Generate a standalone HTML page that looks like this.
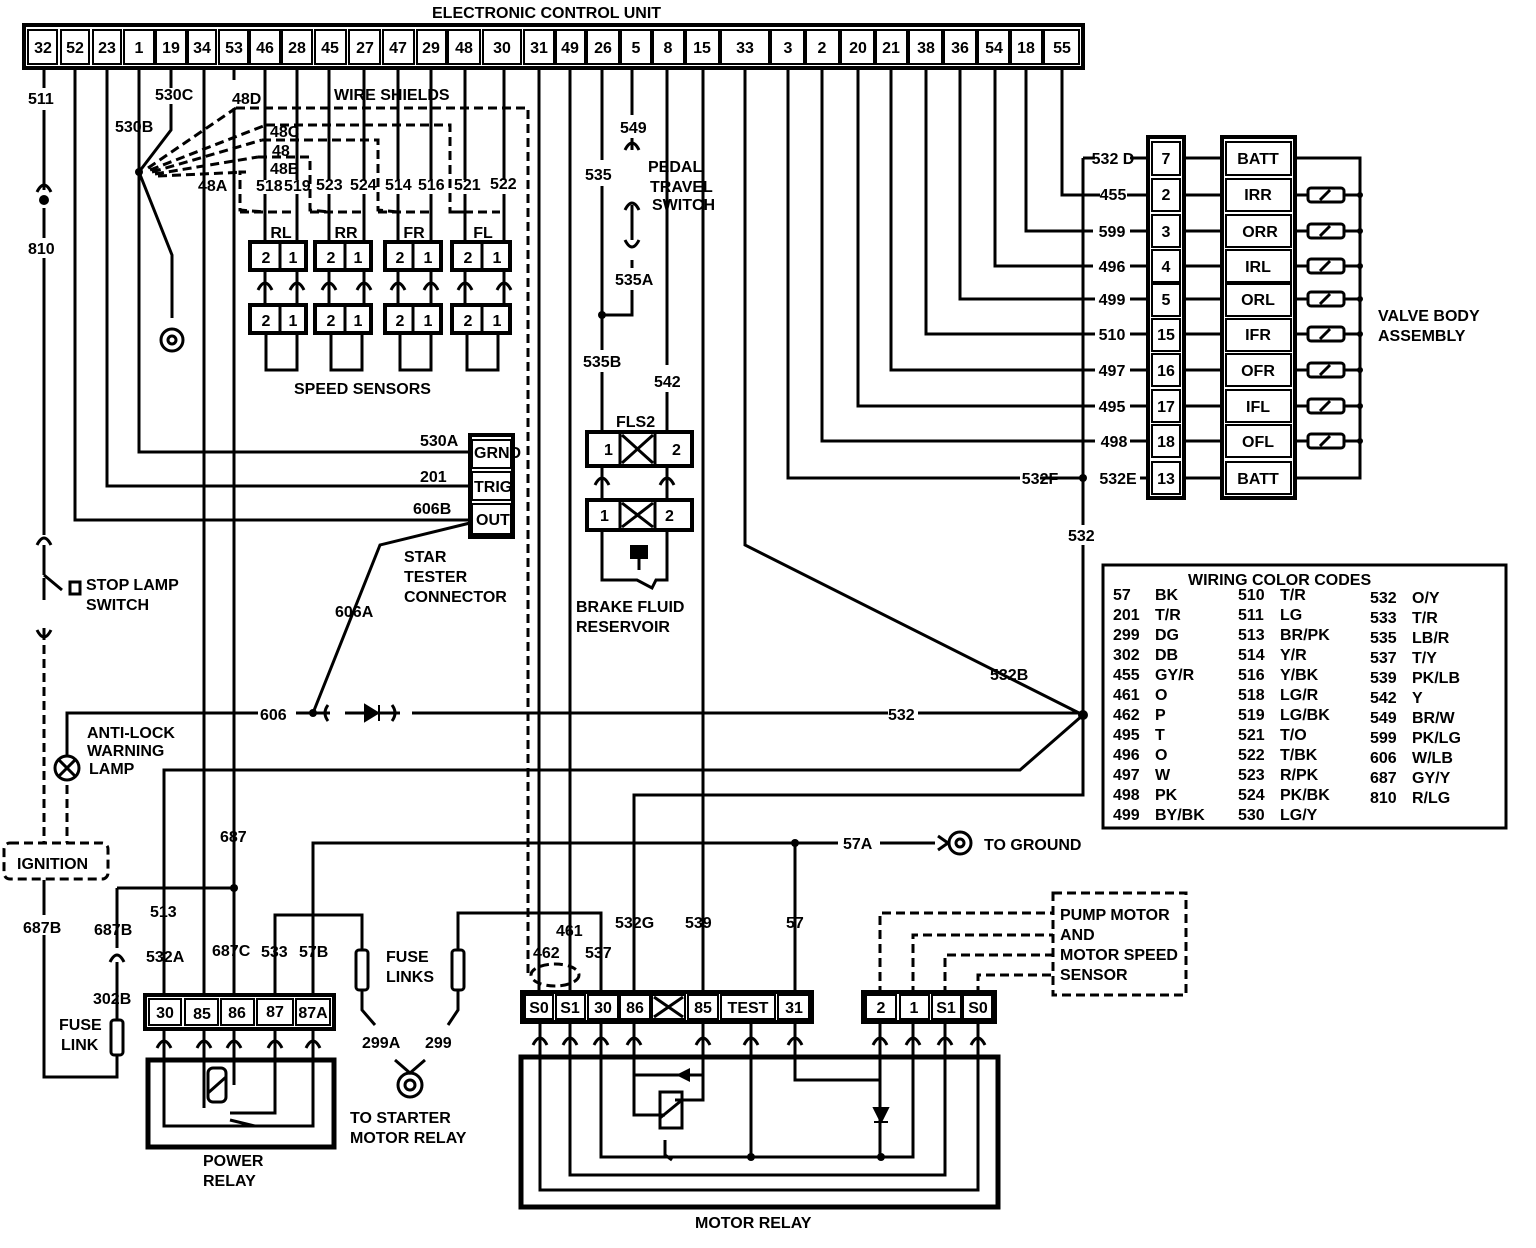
<!DOCTYPE html>
<html><head><meta charset="utf-8"><style>
html,body{margin:0;padding:0;background:#fff}
svg{display:block}
text{font-family:"Liberation Sans",sans-serif;font-weight:bold;font-size:16px;fill:#000}
.w{stroke:#000;stroke-width:3;fill:none}
.d{stroke:#000;stroke-width:3;fill:none;stroke-dasharray:9 5}
.b{stroke:#000;stroke-width:4;fill:#fff}
.c{stroke:#000;stroke-width:2;fill:#fff}
</style></head><body>
<svg width="1536" height="1248" viewBox="0 0 1536 1248" xmlns="http://www.w3.org/2000/svg">
<text x="432" y="18" font-size="17">ELECTRONIC CONTROL UNIT</text>
<rect x="24" y="25" width="1059" height="43" class="b"/>
<g class="c">
<rect x="28" y="30" width="29" height="34"/><rect x="61" y="30" width="28" height="34"/><rect x="93" y="30" width="28" height="34"/><rect x="124" y="30" width="30" height="34"/><rect x="156" y="30" width="30" height="34"/><rect x="188" y="30" width="28" height="34"/><rect x="219" y="30" width="29" height="34"/><rect x="250" y="30" width="30" height="34"/><rect x="282" y="30" width="30" height="34"/><rect x="315" y="30" width="31" height="34"/><rect x="349" y="30" width="31" height="34"/><rect x="383" y="30" width="31" height="34"/><rect x="417" y="30" width="29" height="34"/><rect x="448" y="30" width="32" height="34"/><rect x="483" y="30" width="38" height="34"/><rect x="524" y="30" width="30" height="34"/><rect x="556" y="30" width="29" height="34"/><rect x="587" y="30" width="32" height="34"/><rect x="621" y="30" width="30" height="34"/><rect x="653" y="30" width="31" height="34"/><rect x="686" y="30" width="33" height="34"/><rect x="721" y="30" width="48" height="34"/><rect x="771" y="30" width="33" height="34"/><rect x="806" y="30" width="33" height="34"/><rect x="841" y="30" width="33" height="34"/><rect x="876" y="30" width="31" height="34"/><rect x="909" y="30" width="33" height="34"/><rect x="944" y="30" width="32" height="34"/><rect x="978" y="30" width="31" height="34"/><rect x="1011" y="30" width="31" height="34"/><rect x="1044" y="30" width="35" height="34"/>
</g>
<g text-anchor="middle" font-size="16">
<text x="43" y="53">32</text><text x="75" y="53">52</text><text x="107" y="53">23</text><text x="139" y="53">1</text><text x="171" y="53">19</text><text x="202" y="53">34</text><text x="234" y="53">53</text><text x="265" y="53">46</text><text x="297" y="53">28</text><text x="330" y="53">45</text><text x="365" y="53">27</text><text x="398" y="53">47</text><text x="431" y="53">29</text><text x="464" y="53">48</text><text x="502" y="53">30</text><text x="539" y="53">31</text><text x="570" y="53">49</text><text x="603" y="53">26</text><text x="636" y="53">5</text><text x="668" y="53">8</text><text x="702" y="53">15</text><text x="745" y="53">33</text><text x="788" y="53">3</text><text x="822" y="53">2</text><text x="858" y="53">20</text><text x="891" y="53">21</text><text x="926" y="53">38</text><text x="960" y="53">36</text><text x="994" y="53">54</text><text x="1026" y="53">18</text><text x="1062" y="53">55</text>
</g>

<!-- left wires -->
<g class="w">
<path d="M44 68V88M44 110V190M44 208V238M44 258V535M44 545V575"/>
<path d="M44 575L62 590M44 578V600"/>
<path d="M44 628V640"/>
<path d="M75 68V520H470"/>
<path d="M107 68V486H470"/>
<path d="M139 68V452H470"/>
<path d="M171 68V88M171 104V130L139 172L172 255V318"/>
<path d="M204 68V995"/>
<path d="M234 68V80M234 108V995"/>
<path d="M265 68V180M265 194V242M297 68V180M297 194V242M329 68V180M329 194V242M364 68V180M364 194V242M398 68V180M398 194V242M431 68V180M431 194V242M465 68V180M465 194V242M504 68V180M504 194V242"/>
<path d="M539 68V993M570 68V993M602 68V160M602 186V350M602 372V433"/>
<path d="M632 68V115M632 138V150M632 205V240M632 260V268M632 290V315H602"/>
<path d="M667 68V365M667 392V433M703 68V993"/>
<path d="M745 68V545L1083 715"/>
<path d="M788 68V478H1020M1040 478H1083"/>
<path d="M822 68V441H1095M858 68V406H1095M891 68V370H1095M926 68V334H1095M960 68V299H1095M995 68V266H1093M1026 68V231H1093M1062 68V195H1100M1127 195H1150"/>
<path d="M1083 158V525M1083 545V795H634V993M1083 158H1095M1130 158H1150"/>
<path d="M1130 231H1150M1130 266H1150M1130 299H1150M1130 334H1150M1130 370H1150M1130 406H1150M1130 441H1150M1140 478H1150"/>
<path d="M1182 158H1222M1182 195H1222M1182 231H1222M1182 266H1222M1182 299H1222M1182 334H1222M1182 370H1222M1182 406H1222M1182 441H1222M1182 478H1222"/>
<path d="M1295 158H1360V478H1295M1295 195H1307M1345 195H1360M1295 231H1307M1345 231H1360M1295 266H1307M1345 266H1360M1295 299H1307M1345 299H1360M1295 334H1307M1345 334H1360M1295 370H1307M1345 370H1360M1295 406H1307M1345 406H1360M1295 441H1307M1345 441H1360"/>
<!-- 606 line -->
<path d="M67 755V713H258M296 713H313M313 713L380 545L470 523M313 713H330M345 713H400M412 713H888M918 713H1083"/>
<path d="M1083 715L1020 770H164V995"/>
<path d="M313 995V843H795V993M795 843H838M880 843H935"/>
<path d="M117 888H234M117 888V948M117 962V1020M117 1055V1077H44V935M44 915V880"/>
<path d="M275 995V915H362V950M362 990V1010L375 1025"/>
<path d="M601 993V913H458V950M458 990V1010L448 1025"/>
<path d="M570 913H539"/>
</g>
<g class="d">
<path d="M44 645V843M67 785V843"/>
<path d="M236 108H528V975M266 125H450V212L465 212M262 140H378V210L398 212M258 157H310V210L329 212M246 172H240V210L265 212"/>
<path d="M450 212H500M378 212H430M310 212H362M240 212H297"/>
<path d="M148 168L236 108M150 170L266 125M152 172L262 140M155 174L258 157M158 176L246 172"/>
<path d="M880 995V913H1053M913 995V935H1053M945 995V955H1053M978 995V975H1053"/>
<rect x="1053" y="893" width="133" height="102"/>
<rect x="4" y="843" width="104" height="36" rx="6"/>
<ellipse cx="555" cy="975" rx="24" ry="11"/>
</g>
<!-- dots -->
<g fill="#000">
<circle cx="139" cy="172" r="4"/><circle cx="44" cy="200" r="5"/><circle cx="602" cy="315" r="4"/><circle cx="1083" cy="478" r="4"/><circle cx="1083" cy="715" r="5"/><circle cx="313" cy="713" r="4"/><circle cx="234" cy="888" r="4"/><circle cx="795" cy="843" r="4"/><circle cx="751" cy="1157" r="4"/><circle cx="881" cy="1157" r="4"/>
<circle cx="1360" cy="195" r="3"/><circle cx="1360" cy="231" r="3"/><circle cx="1360" cy="266" r="3"/><circle cx="1360" cy="299" r="3"/><circle cx="1360" cy="334" r="3"/><circle cx="1360" cy="370" r="3"/><circle cx="1360" cy="406" r="3"/><circle cx="1360" cy="441" r="3"/>
</g>
<!-- connector arrows -->
<g class="w">
<path d="M37 192Q44 178 51 192M37 545Q44 531 51 545M37 630Q44 644 51 630M625 150Q632 136 639 150M625 240Q632 254 639 240M625 210Q632 196 639 210"/>
<path d="M258 290Q265 276 272 290M290 290Q297 276 304 290M322 290Q329 276 336 290M357 290Q364 276 371 290M391 290Q398 276 405 290M424 290Q431 276 438 290M458 290Q465 276 472 290M497 290Q504 276 511 290"/>
<path d="M265 270V305M297 270V305M329 270V305M364 270V305M398 270V305M431 270V305M465 270V305M504 270V305"/>
<path d="M595 485Q602 471 609 485M660 485Q667 471 674 485M602 465V500M667 465V500"/>
<path d="M110 962Q117 948 124 962"/>
<path d="M157 1048Q164 1034 171 1048M197 1048Q204 1034 211 1048M227 1048Q234 1034 241 1048M268 1048Q275 1034 282 1048M306 1048Q313 1034 320 1048"/>
<path d="M164 1028V1126H313V1028M204 1028V1108M234 1028V1085M275 1028V1113H230M230 1120L255 1126"/>
<path d="M533 1045Q540 1031 547 1045M563 1045Q570 1031 577 1045M594 1045Q601 1031 608 1045M627 1045Q634 1031 641 1045M696 1045Q703 1031 710 1045M744 1045Q751 1031 758 1045M788 1045Q795 1031 802 1045M873 1045Q880 1031 887 1045M906 1045Q913 1031 920 1045M938 1045Q945 1031 952 1045M971 1045Q978 1031 985 1045"/>
<path d="M540 1022V1190H978V1022M570 1022V1175H945V1022M601 1022V1157H913V1022M634 1022V1115H665M703 1022V1100H675M634 1075H703M751 1022V1157M795 1022V1080H880M880 1022V1157"/>
<path d="M665 1140V1155L672 1160"/>
</g>
<path d="M690 1068L676 1075L690 1082Z" fill="#000"/>
<path d="M874 1108L881 1122L888 1108Z M874 1122H888" fill="#000" stroke="#000" stroke-width="2"/>
<rect x="660" y="1092" width="22" height="36" class="w"/><path d="M660 1118L682 1100" class="w"/>
<rect x="208" y="1068" width="18" height="34" rx="5" class="w"/><path d="M208 1093L226 1077" class="w"/>
<!-- boxes -->
<rect x="148" y="1060" width="186" height="87" fill="none" stroke="#000" stroke-width="5"/>
<rect x="521" y="1057" width="477" height="150" fill="none" stroke="#000" stroke-width="5"/>
<rect x="145" y="995" width="189" height="34" class="b"/>
<g class="c"><rect x="149" y="999" width="32" height="26"/><rect x="185" y="999" width="33" height="26"/><rect x="221" y="999" width="33" height="26"/><rect x="257" y="999" width="36" height="26"/><rect x="296" y="999" width="34" height="26"/></g>
<g text-anchor="middle" font-size="15"><text x="165" y="1018">30</text><text x="202" y="1019">85</text><text x="237" y="1018">86</text><text x="275" y="1017">87</text><text x="313" y="1018">87A</text></g>
<rect x="522" y="992" width="290" height="30" class="b"/>
<g class="c"><rect x="525" y="995" width="28" height="24"/><rect x="556" y="995" width="29" height="24"/><rect x="588" y="995" width="30" height="24"/><rect x="620" y="995" width="30" height="24"/><rect x="652" y="995" width="33" height="24"/><rect x="688" y="995" width="30" height="24"/><rect x="721" y="995" width="54" height="24"/><rect x="778" y="995" width="31" height="24"/></g>
<path d="M654 997L683 1017M654 1017L683 997" class="w"/>
<g text-anchor="middle" font-size="15"><text x="539" y="1013">S0</text><text x="570" y="1013">S1</text><text x="603" y="1013">30</text><text x="635" y="1013">86</text><text x="703" y="1013">85</text><text x="748" y="1013">TEST</text><text x="794" y="1013">31</text></g>
<rect x="863" y="992" width="132" height="30" class="b"/>
<g class="c"><rect x="866" y="995" width="30" height="24"/><rect x="900" y="995" width="29" height="24"/><rect x="932" y="995" width="29" height="24"/><rect x="963" y="995" width="29" height="24"/></g>
<g text-anchor="middle" font-size="15"><text x="881" y="1013">2</text><text x="914" y="1013">1</text><text x="946" y="1013">S1</text><text x="978" y="1013">S0</text></g>
<!-- speed sensors -->
<g>
<rect x="250" y="242" width="56" height="28" class="b"/><rect x="315" y="242" width="56" height="28" class="b"/><rect x="385" y="242" width="56" height="28" class="b"/><rect x="452" y="242" width="58" height="28" class="b"/>
<rect x="250" y="305" width="56" height="28" class="b"/><rect x="315" y="305" width="56" height="28" class="b"/><rect x="385" y="305" width="56" height="28" class="b"/><rect x="452" y="305" width="58" height="28" class="b"/>
<path class="w" d="M280 242V270M345 242V270M413 242V270M482 242V270M280 305V333M345 305V333M413 305V333M482 305V333"/>
<path class="w" d="M266 333V370H297V333M331 333V370H362V333M400 333V370H431V333M467 333V370H498V333"/>
</g>
<g text-anchor="middle" font-size="15">
<text x="266" y="263">2</text><text x="293" y="263">1</text><text x="331" y="263">2</text><text x="358" y="263">1</text><text x="400" y="263">2</text><text x="428" y="263">1</text><text x="468" y="263">2</text><text x="497" y="263">1</text>
<text x="266" y="326">2</text><text x="293" y="326">1</text><text x="331" y="326">2</text><text x="358" y="326">1</text><text x="400" y="326">2</text><text x="428" y="326">1</text><text x="468" y="326">2</text><text x="497" y="326">1</text>
<text x="281" y="238" font-size="14">RL</text><text x="346" y="238" font-size="14">RR</text><text x="414" y="238" font-size="14">FR</text><text x="483" y="238" font-size="14">FL</text>
</g>
<!-- ring terminals -->
<g class="w"><circle cx="172" cy="340" r="11"/><circle cx="172" cy="340" r="4"/><circle cx="960" cy="843" r="11"/><circle cx="960" cy="843" r="4"/><circle cx="410" cy="1085" r="12"/><circle cx="410" cy="1085" r="5"/><path d="M395 1060L410 1073L425 1060"/></g>
<!-- fuse links -->
<g class="w"><rect x="356" y="950" width="12" height="40" rx="3"/><rect x="452" y="950" width="12" height="40" rx="3"/><rect x="111" y="1020" width="12" height="35" rx="3"/></g>
<!-- valve body -->
<rect x="1148" y="137" width="36" height="361" class="b"/>
<rect x="1222" y="137" width="73" height="361" class="b"/>
<g class="c">
<rect x="1152" y="142" width="28" height="33"/><rect x="1152" y="179" width="28" height="32"/><rect x="1152" y="215" width="28" height="32"/><rect x="1152" y="250" width="28" height="32"/><rect x="1152" y="284" width="28" height="32"/><rect x="1152" y="319" width="28" height="32"/><rect x="1152" y="354" width="28" height="32"/><rect x="1152" y="390" width="28" height="32"/><rect x="1152" y="425" width="28" height="32"/><rect x="1152" y="462" width="28" height="32"/>
<rect x="1226" y="142" width="65" height="33"/><rect x="1226" y="179" width="65" height="32"/><rect x="1226" y="215" width="65" height="32"/><rect x="1226" y="250" width="65" height="32"/><rect x="1226" y="284" width="65" height="32"/><rect x="1226" y="319" width="65" height="32"/><rect x="1226" y="354" width="65" height="32"/><rect x="1226" y="390" width="65" height="32"/><rect x="1226" y="425" width="65" height="32"/><rect x="1226" y="462" width="65" height="32"/>
</g>
<g class="w">
<rect x="1308" y="188" width="36" height="14" rx="3"/><rect x="1308" y="224" width="36" height="14" rx="3"/><rect x="1308" y="259" width="36" height="14" rx="3"/><rect x="1308" y="292" width="36" height="14" rx="3"/><rect x="1308" y="327" width="36" height="14" rx="3"/><rect x="1308" y="363" width="36" height="14" rx="3"/><rect x="1308" y="399" width="36" height="14" rx="3"/><rect x="1308" y="434" width="36" height="14" rx="3"/>
<path d="M1320 200L1330 190M1320 236L1330 226M1320 271L1330 261M1320 304L1330 294M1320 339L1330 329M1320 375L1330 365M1320 411L1330 401M1320 446L1330 436"/>
</g>
<g text-anchor="middle" font-size="15">
<text x="1166" y="164">7</text><text x="1166" y="200">2</text><text x="1166" y="237">3</text><text x="1166" y="272">4</text><text x="1166" y="305">5</text><text x="1166" y="340">15</text><text x="1166" y="376">16</text><text x="1166" y="412">17</text><text x="1166" y="447">18</text><text x="1166" y="484">13</text>
<text x="1258" y="164" font-size="14">BATT</text><text x="1258" y="200" font-size="14">IRR</text><text x="1260" y="237" font-size="14">ORR</text><text x="1258" y="272" font-size="14">IRL</text><text x="1258" y="305" font-size="14">ORL</text><text x="1258" y="340" font-size="14">IFR</text><text x="1258" y="376" font-size="14">OFR</text><text x="1258" y="412" font-size="14">IFL</text><text x="1258" y="447" font-size="14">OFL</text><text x="1258" y="484" font-size="14">BATT</text>
<text x="1113" y="164" font-size="14">532 D</text><text x="1113" y="200" font-size="14">455</text><text x="1112" y="237">599</text><text x="1112" y="272">496</text><text x="1112" y="305">499</text><text x="1112" y="340">510</text><text x="1112" y="376">497</text><text x="1112" y="412">495</text><text x="1114" y="447">498</text><text x="1118" y="484" font-size="14">532E</text><text x="1040" y="484" font-size="14">532F</text>
</g>
<text x="1378" y="321" font-size="17">VALVE BODY</text><text x="1378" y="341" font-size="17">ASSEMBLY</text>
<!-- FLS2 -->
<rect x="587" y="432" width="105" height="34" class="b"/>
<rect x="587" y="500" width="105" height="30" class="b"/>
<path class="w" d="M620 432V466M655 432V466M622 435L653 463M622 463L653 435M620 500V530M655 500V530M622 503L653 527M622 527L653 503"/>
<path class="w" d="M602 530V580H637L652 588L656 580H667V530"/>
<rect x="630" y="545" width="18" height="14" fill="#000"/><path d="M639 559V570" class="w"/>
<text x="604" y="455" font-size="15">1</text><text x="672" y="455" font-size="15">2</text><text x="600" y="521" font-size="15">1</text><text x="665" y="521" font-size="15">2</text>
<text x="616" y="427" font-size="15">FLS2</text>
<text x="576" y="612" font-size="17">BRAKE FLUID</text><text x="576" y="632" font-size="17">RESERVOIR</text>
<!-- star tester -->
<rect x="470" y="435" width="43" height="102" class="b"/>
<g class="c"><rect x="472" y="440" width="39" height="28"/><rect x="472" y="472" width="39" height="28"/><rect x="472" y="504" width="39" height="30"/></g>
<g font-size="14"><text x="474" y="458">GRND</text><text x="474" y="492">TRIG</text><text x="476" y="525">OUT</text></g>
<text x="404" y="562" font-size="17">STAR</text><text x="404" y="582" font-size="17">TESTER</text><text x="404" y="602" font-size="17">CONNECTOR</text>
<!-- misc symbols -->
<rect x="70" y="582" width="10" height="12" class="w"/>
<path d="M328 705Q322 713 328 721M392 705Q398 713 392 721" class="w"/>
<path d="M365 705L378 713L365 721Z M379 705V721" fill="#000" stroke="#000" stroke-width="2"/>
<circle cx="67" cy="768" r="12" class="w"/><path d="M58 759L76 777M76 759L58 777" class="w"/>
<path d="M938 836L948 843L938 850" class="w"/>
<!-- labels -->
<g font-size="16">
<text x="28" y="104">511</text><text x="28" y="254">810</text><text x="155" y="100">530C</text><text x="115" y="132">530B</text><text x="232" y="104">48D</text><text x="334" y="100" font-size="15">WIRE SHIELDS</text>
<text x="270" y="137" font-size="15">48C</text><text x="272" y="156" font-size="15">48</text><text x="270" y="174" font-size="15">48B</text><text x="198" y="191">48A</text>
<text x="256" y="191" font-size="15">518</text><text x="284" y="191" font-size="15">519</text><text x="316" y="190">523</text><text x="350" y="190">524</text><text x="385" y="190">514</text><text x="418" y="190">516</text><text x="454" y="190" font-size="15">521</text><text x="490" y="189">522</text>
<text x="294" y="394">SPEED SENSORS</text>
<text x="620" y="133">549</text><text x="585" y="180">535</text><text x="648" y="172" font-size="15">PEDAL</text><text x="650" y="192" font-size="15">TRAVEL</text><text x="652" y="210" font-size="15">SWITCH</text>
<text x="615" y="285">535A</text><text x="583" y="367">535B</text><text x="654" y="387">542</text>
<text x="420" y="446">530A</text><text x="420" y="482">201</text><text x="413" y="514">606B</text><text x="335" y="617">606A</text>
<text x="86" y="590">STOP LAMP</text><text x="86" y="610">SWITCH</text>
<text x="260" y="720">606</text><text x="888" y="720">532</text><text x="990" y="680" font-size="14">532B</text><text x="1068" y="541">532</text>
<text x="87" y="738">ANTI-LOCK</text><text x="87" y="756">WARNING</text><text x="89" y="774">LAMP</text>
<text x="17" y="869" font-size="17">IGNITION</text>
<text x="220" y="842">687</text><text x="23" y="933">687B</text><text x="94" y="935">687B</text><text x="150" y="917">513</text><text x="146" y="962">532A</text>
<text x="212" y="956">687C</text><text x="261" y="957">533</text><text x="299" y="957">57B</text>
<text x="93" y="1004">302B</text><text x="59" y="1030">FUSE</text><text x="61" y="1050">LINK</text>
<text x="386" y="962">FUSE</text><text x="386" y="982">LINKS</text>
<text x="362" y="1048">299A</text><text x="425" y="1048">299</text>
<text x="350" y="1123">TO STARTER</text><text x="350" y="1143">MOTOR RELAY</text>
<text x="203" y="1166">POWER</text><text x="203" y="1186">RELAY</text>
<text x="556" y="936">461</text><text x="533" y="958">462</text><text x="585" y="958">537</text><text x="615" y="928">532G</text><text x="685" y="928">539</text><text x="786" y="928">57</text>
<text x="843" y="849">57A</text><text x="984" y="850" font-size="17">TO GROUND</text>
<text x="1060" y="920" font-size="15">PUMP MOTOR</text><text x="1060" y="940" font-size="15">AND</text><text x="1060" y="960" font-size="15">MOTOR SPEED</text><text x="1060" y="980" font-size="15">SENSOR</text>
<text x="695" y="1228">MOTOR RELAY</text>
</g>
<!-- color table -->
<rect x="1103" y="565" width="403" height="263" fill="none" stroke="#000" stroke-width="3"/>
<text x="1188" y="585">WIRING COLOR CODES</text>
<g font-size="16">
<text x="1113" y="600">57</text><text x="1155" y="600">BK</text>
<text x="1113" y="620">201</text><text x="1155" y="620">T/R</text>
<text x="1113" y="640">299</text><text x="1155" y="640">DG</text>
<text x="1113" y="660">302</text><text x="1155" y="660">DB</text>
<text x="1113" y="680">455</text><text x="1155" y="680">GY/R</text>
<text x="1113" y="700">461</text><text x="1155" y="700">O</text>
<text x="1113" y="720">462</text><text x="1155" y="720">P</text>
<text x="1113" y="740">495</text><text x="1155" y="740">T</text>
<text x="1113" y="760">496</text><text x="1155" y="760">O</text>
<text x="1113" y="780">497</text><text x="1155" y="780">W</text>
<text x="1113" y="800">498</text><text x="1155" y="800">PK</text>
<text x="1113" y="820">499</text><text x="1155" y="820">BY/BK</text>
<text x="1238" y="600">510</text><text x="1280" y="600">T/R</text>
<text x="1238" y="620">511</text><text x="1280" y="620">LG</text>
<text x="1238" y="640">513</text><text x="1280" y="640">BR/PK</text>
<text x="1238" y="660">514</text><text x="1280" y="660">Y/R</text>
<text x="1238" y="680">516</text><text x="1280" y="680">Y/BK</text>
<text x="1238" y="700">518</text><text x="1280" y="700">LG/R</text>
<text x="1238" y="720">519</text><text x="1280" y="720">LG/BK</text>
<text x="1238" y="740">521</text><text x="1280" y="740">T/O</text>
<text x="1238" y="760">522</text><text x="1280" y="760">T/BK</text>
<text x="1238" y="780">523</text><text x="1280" y="780">R/PK</text>
<text x="1238" y="800">524</text><text x="1280" y="800">PK/BK</text>
<text x="1238" y="820">530</text><text x="1280" y="820">LG/Y</text>
<text x="1370" y="603">532</text><text x="1412" y="603">O/Y</text>
<text x="1370" y="623">533</text><text x="1412" y="623">T/R</text>
<text x="1370" y="643">535</text><text x="1412" y="643">LB/R</text>
<text x="1370" y="663">537</text><text x="1412" y="663">T/Y</text>
<text x="1370" y="683">539</text><text x="1412" y="683">PK/LB</text>
<text x="1370" y="703">542</text><text x="1412" y="703">Y</text>
<text x="1370" y="723">549</text><text x="1412" y="723">BR/W</text>
<text x="1370" y="743">599</text><text x="1412" y="743">PK/LG</text>
<text x="1370" y="763">606</text><text x="1412" y="763">W/LB</text>
<text x="1370" y="783">687</text><text x="1412" y="783">GY/Y</text>
<text x="1370" y="803">810</text><text x="1412" y="803">R/LG</text>
</g>
</svg>
</body></html>
